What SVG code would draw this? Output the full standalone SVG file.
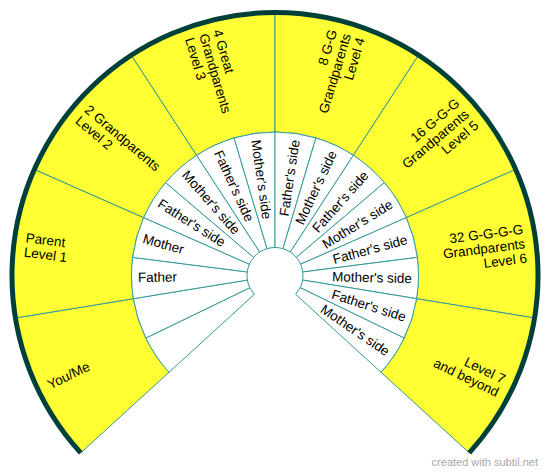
<svg xmlns="http://www.w3.org/2000/svg" width="550" height="473" viewBox="0 0 550 473">
<style>
.outer{fill:#ffff33;stroke:#339999;stroke-width:1}
.inner{fill:#ffffff;stroke:#339999;stroke-width:1}
.lbl{font-family:"Liberation Sans",Arial,sans-serif;font-size:13.5px;fill:#000}
.border{fill:none;stroke:#00403a;stroke-width:5;stroke-linecap:butt}
.wm{font-family:"Liberation Sans",Arial,sans-serif;font-size:11px;fill:#a8a8a8}
</style>
<rect width="550" height="473" fill="#ffffff"/>
<g id="outer-sectors">
<g id="s-youme"><path class="outer" d="M169.03,372.26 L81.52,452.17 A262,262 0 0 1 16.43,317.84 L133.38,298.69 A143.5,143.5 0 0 0 169.03,372.26Z"/>
<text class="lbl" transform="translate(48.23,385.37) rotate(-25.85)" text-anchor="start" dy="4.5">You/Me</text></g>
<g id="s-parent"><path class="outer" d="M133.38,298.69 L16.43,317.84 A262,262 0 0 1 35.27,169.78 L143.70,217.60 A143.5,143.5 0 0 0 133.38,298.69Z"/>
<text class="lbl" transform="translate(25.02,243.70) rotate(7.25)" text-anchor="start"><tspan x="0" dy="-1.5">Parent</tspan><tspan x="0" dy="14.5">Level 1</tspan></text></g>
<g id="s-level2"><path class="outer" d="M143.70,217.60 L35.27,169.78 A262,262 0 0 1 131.92,56.02 L196.63,155.29 A143.5,143.5 0 0 0 143.70,217.60Z"/>
<text class="lbl" transform="translate(82.90,112.36) rotate(40.35)" text-anchor="start"><tspan x="0" dy="-1.5">2 Grandparents</tspan><tspan x="0" dy="14.5">Level 2</tspan></text></g>
<g id="s-level3"><path class="outer" d="M196.63,155.29 L131.92,56.02 A262,262 0 0 1 275,13.5 L275,132 A143.5,143.5 0 0 0 196.63,155.29Z"/>
<text class="lbl" transform="translate(203.21,33.93) rotate(73.45)" text-anchor="start"><tspan x="0" dy="-10">4 Great</tspan><tspan x="0" dy="14.5">Grandparents</tspan><tspan x="0" dy="14.5">Level 3</tspan></text></g>
<g id="s-level4"><path class="outer" d="M275,132 L275,13.5 A262,262 0 0 1 418.08,56.02 L353.37,155.29 A143.5,143.5 0 0 0 275,132Z"/>
<text class="lbl" transform="translate(346.79,33.93) rotate(-73.45)" text-anchor="end"><tspan x="0" dy="-10">8 G-G</tspan><tspan x="0" dy="14.5">Grandparents</tspan><tspan x="0" dy="14.5">Level 4</tspan></text></g>
<g id="s-level5"><path class="outer" d="M353.37,155.29 L418.08,56.02 A262,262 0 0 1 514.73,169.78 L406.30,217.60 A143.5,143.5 0 0 0 353.37,155.29Z"/>
<text class="lbl" transform="translate(467.10,112.36) rotate(-40.35)" text-anchor="end"><tspan x="0" dy="-10">16 G-G-G</tspan><tspan x="0" dy="14.5">Grandparents</tspan><tspan x="0" dy="14.5">Level 5</tspan></text></g>
<g id="s-level6"><path class="outer" d="M406.30,217.60 L514.73,169.78 A262,262 0 0 1 533.57,317.84 L416.62,298.69 A143.5,143.5 0 0 0 406.30,217.60Z"/>
<text class="lbl" transform="translate(524.98,243.70) rotate(-7.25)" text-anchor="end"><tspan x="0" dy="-10">32 G-G-G-G</tspan><tspan x="0" dy="14.5">Grandparents</tspan><tspan x="0" dy="14.5">Level 6</tspan></text></g>
<g id="s-level7"><path class="outer" d="M416.62,298.69 L533.57,317.84 A262,262 0 0 1 468.48,452.17 L380.97,372.26 A143.5,143.5 0 0 0 416.62,298.69Z"/>
<text class="lbl" transform="translate(501.77,385.37) rotate(25.85)" text-anchor="end"><tspan x="0" dy="-1.5">Level 7</tspan><tspan x="0" dy="14.5">and beyond</tspan></text></g>
</g>
<g id="inner-segments">
<g id="i0"><path class="inner" d="M254.32,294.38 L169.03,372.26 A143.5,143.5 0 0 1 145.86,338.07 L249.80,287.71 Z"/></g>
<g id="i1"><path class="inner" d="M249.80,287.71 L145.86,338.07 A143.5,143.5 0 0 1 133.38,298.69 L247.37,280.02 A28,28 0 0 0 249.80,287.71Z"/></g>
<g id="i2"><path class="inner" d="M247.37,280.02 L133.38,298.69 A143.5,143.5 0 0 1 132.65,257.39 L247.22,271.97 A28,28 0 0 0 247.37,280.02Z"/>
<text class="lbl" transform="translate(138.01,277.47) rotate(-0.825)" text-anchor="start" dy="4.6">Father</text></g>
<g id="i3"><path class="inner" d="M247.22,271.97 L132.65,257.39 A143.5,143.5 0 0 1 143.70,217.60 L249.38,264.20 A28,28 0 0 0 247.22,271.97Z"/>
<text class="lbl" transform="translate(143.13,238.37) rotate(15.725)" text-anchor="start" dy="4.6">Mother</text></g>
<g id="i4"><path class="inner" d="M249.38,264.20 L143.70,217.60 A143.5,143.5 0 0 1 165.61,182.60 L253.66,257.37 A28,28 0 0 0 249.38,264.20Z"/>
<text class="lbl" transform="translate(159.17,202.35) rotate(32.275)" text-anchor="start" dy="4.6">Father's side</text></g>
<g id="i5"><path class="inner" d="M253.66,257.37 L165.61,182.60 A143.5,143.5 0 0 1 196.63,155.29 L259.71,252.04 A28,28 0 0 0 253.66,257.37Z"/>
<text class="lbl" transform="translate(184.81,172.38) rotate(48.825)" text-anchor="start" dy="4.6">Mother's side</text></g>
<g id="i6"><path class="inner" d="M259.71,252.04 L196.63,155.29 A143.5,143.5 0 0 1 234.12,137.94 L267.02,248.66 A28,28 0 0 0 259.71,252.04Z"/>
<text class="lbl" transform="translate(217.92,150.96) rotate(65.375)" text-anchor="start" dy="4.6">Father's side</text></g>
<g id="i7"><path class="inner" d="M267.02,248.66 L234.12,137.94 A143.5,143.5 0 0 1 275,132 L275,247.5 A28,28 0 0 0 267.02,248.66Z"/>
<text class="lbl" transform="translate(255.76,139.86) rotate(81.925)" text-anchor="start" dy="4.6">Mother's side</text></g>
<g id="i8"><path class="inner" d="M275,247.5 L275,132 A143.5,143.5 0 0 1 315.88,137.94 L282.98,248.66 A28,28 0 0 0 275,247.5Z"/>
<text class="lbl" transform="translate(295.19,140.00) rotate(-81.525)" text-anchor="end" dy="4.6">Father's side</text></g>
<g id="i9"><path class="inner" d="M282.98,248.66 L315.88,137.94 A143.5,143.5 0 0 1 353.37,155.29 L290.29,252.04 A28,28 0 0 0 282.98,248.66Z"/>
<text class="lbl" transform="translate(332.95,151.36) rotate(-64.975)" text-anchor="end" dy="4.6">Mother's side</text></g>
<g id="i10"><path class="inner" d="M290.29,252.04 L353.37,155.29 A143.5,143.5 0 0 1 384.39,182.60 L296.34,257.37 A28,28 0 0 0 290.29,252.04Z"/>
<text class="lbl" transform="translate(365.91,173.02) rotate(-48.425)" text-anchor="end" dy="4.6">Father's side</text></g>
<g id="i11"><path class="inner" d="M296.34,257.37 L384.39,182.60 A143.5,143.5 0 0 1 406.30,217.60 L300.62,264.20 A28,28 0 0 0 296.34,257.37Z"/>
<text class="lbl" transform="translate(391.34,203.16) rotate(-31.875)" text-anchor="end" dy="4.6">Mother's side</text></g>
<g id="i12"><path class="inner" d="M300.62,264.20 L406.30,217.60 A143.5,143.5 0 0 1 417.35,257.39 L302.78,271.97 A28,28 0 0 0 300.62,264.20Z"/>
<text class="lbl" transform="translate(407.12,239.29) rotate(-15.325)" text-anchor="end" dy="4.6">Father's side</text></g>
<g id="i13"><path class="inner" d="M302.78,271.97 L417.35,257.39 A143.5,143.5 0 0 1 416.62,298.69 L302.63,280.02 A28,28 0 0 0 302.78,271.97Z"/>
<text class="lbl" transform="translate(411.97,278.43) rotate(1.225)" text-anchor="end" dy="4.6">Mother's side</text></g>
<g id="i14"><path class="inner" d="M302.63,280.02 L416.62,298.69 A143.5,143.5 0 0 1 404.14,338.07 L300.20,287.71 A28,28 0 0 0 302.63,280.02Z"/>
<text class="lbl" transform="translate(405.46,317.32) rotate(17.775)" text-anchor="end" dy="4.6">Father's side</text></g>
<g id="i15"><path class="inner" d="M300.20,287.71 L404.14,338.07 A143.5,143.5 0 0 1 380.97,372.26 L295.68,294.38 Z"/>
<text class="lbl" transform="translate(388.14,352.75) rotate(34.325)" text-anchor="end" dy="4.6">Mother's side</text></g>
</g>
<path id="rim" class="border" d="M80.78,452.84 A263,263 0 1 1 469.22,452.84"/>
<text class="wm" x="538" y="466" text-anchor="end">created with subtil.net</text>
</svg>
